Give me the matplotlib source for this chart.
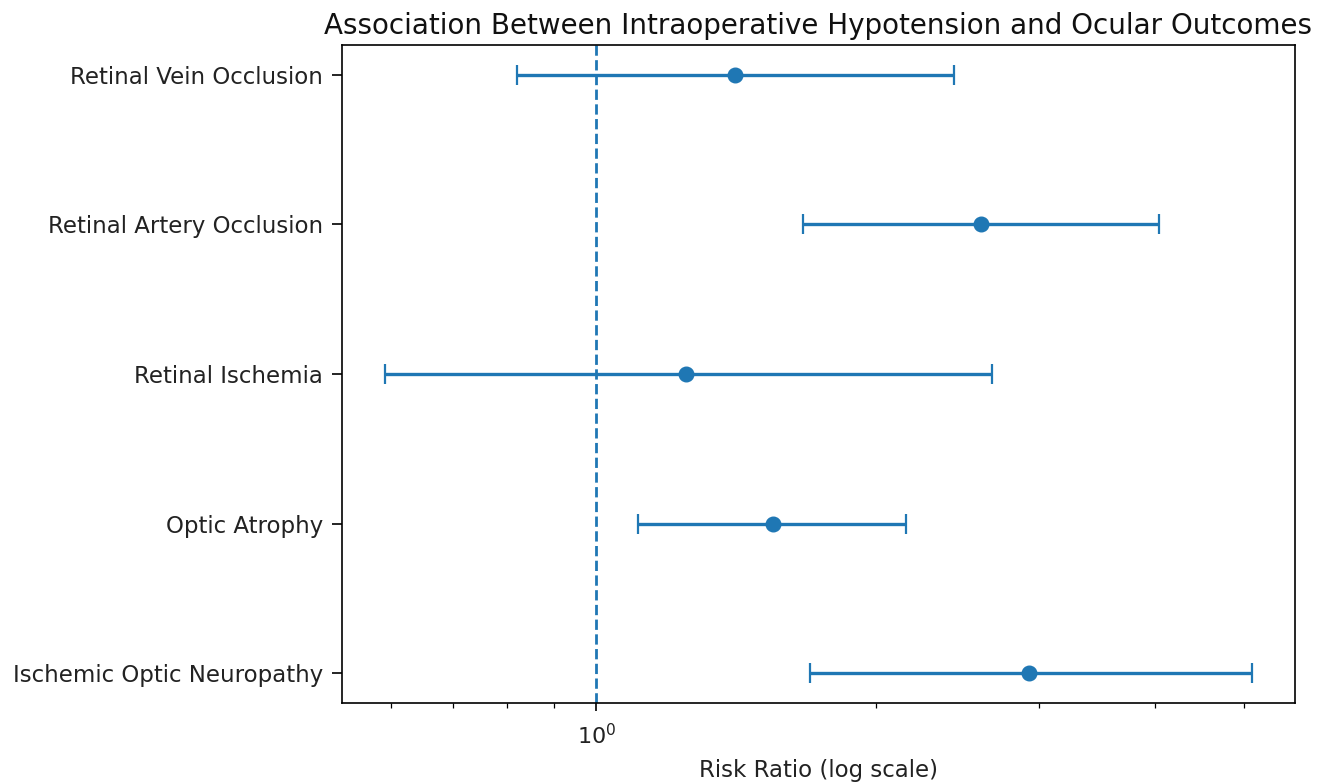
import matplotlib
matplotlib.use("Agg")
import matplotlib.pyplot as plt
from matplotlib.ticker import NullFormatter

# Forest plot data (bottom to top)
outcomes = ['Ischemic Optic Neuropathy', 'Optic Atrophy', 'Retinal Ischemia',
            'Retinal Artery Occlusion', 'Retinal Vein Occlusion']
risk_ratio = [2.93, 1.55, 1.25, 2.60, 1.41]
ci_lower = [1.70, 1.11, 0.592, 1.67, 0.822]
ci_upper = [5.09, 2.16, 2.67, 4.04, 2.43]

err_low = [rr - lo for rr, lo in zip(risk_ratio, ci_lower)]
err_high = [hi - rr for rr, hi in zip(risk_ratio, ci_upper)]
ypos = list(range(len(outcomes)))

fig = plt.figure(figsize=(13.23, 7.83), dpi=100)
ax = fig.add_axes([0.2585, 0.1022, 0.7203, 0.8403])

ax.errorbar(risk_ratio, ypos, xerr=[err_low, err_high], fmt='o', color='#1f77b4',
            capsize=7.5, markersize=10.5, elinewidth=2.4, capthick=1.6)
ax.axvline(1, color='#1f77b4', linestyle='--', linewidth=2)

ax.set_xscale('log')
ax.xaxis.set_minor_formatter(NullFormatter())
ax.set_yticks(ypos)
ax.set_yticklabels(outcomes)
for side in ax.spines.values():
    side.set_linewidth(1.2)
ax.tick_params(axis='y', which='major', labelsize=16.5, length=7.5, width=1.2, pad=6,
               labelcolor='#222222')
ax.tick_params(axis='x', which='major', labelsize=16, length=6, width=1.2, pad=8.5,
               labelcolor='#222222')
ax.tick_params(axis='x', which='minor', length=3.5, width=0.9)
ax.set_xlabel('Risk Ratio (log scale)', fontsize=16.5, color='#222222', labelpad=7.5)
ax.set_title('Association Between Intraoperative Hypotension and Ocular Outcomes',
             fontsize=20, color='#111111', pad=8)

fig.savefig('out.png', dpi=100)
